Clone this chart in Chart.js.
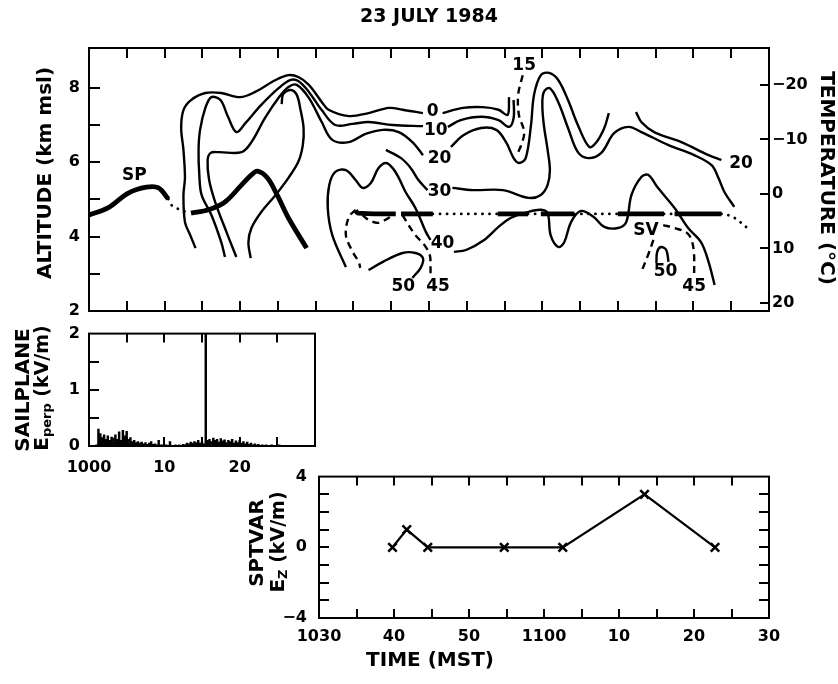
<!DOCTYPE html>
<html>
<head>
<meta charset="utf-8">
<script src="https://cdn.jsdelivr.net/npm/chart.js@4/dist/chart.umd.min.js"></script>
<style>
body { margin: 0; background: #fff; }
#wrap { position: relative; width: 838px; height: 684px; }
canvas { position: absolute; left: 0; }
</style>
</head>
<body>
<div id="wrap">
<canvas id="topChart" width="838" height="330" style="top:0"></canvas>
<canvas id="sailChart" width="838" height="170" style="top:315px"></canvas>
<canvas id="sptChart" width="838" height="229" style="top:455px"></canvas>
</div>
<script>
var FONT = "'DejaVu Sans', sans-serif";
Chart.defaults.font.family = FONT;
Chart.defaults.color = '#000';

// all times are minutes after 1000 MST, altitudes in km msl
// sailplane (SP) track
var spTrackA = [[0,4.58],[2.5,4.77],[5.2,5.17],[7.6,5.33],[9.2,5.31],[10.5,5.01]];
var spTrackDots = [[10.5,5.01],[10.9,4.85],[12.1,4.72],[13.5,4.63]];
var spTrackB = [[13.5,4.63],[15.8,4.72],[18.0,4.93],[20.2,5.39],[21.5,5.66],[22.3,5.76],[23.6,5.58],[24.9,5.12],[26.4,4.50],[28.8,3.69]];

// SPTVAR (SV) track, null = break
var svTrack = [[35.3,4.70],[35.6,4.63],[40.6,4.61], null, [41.3,4.61],[45.5,4.61], null,
  [54.1,4.61],[58.1,4.61], null, [59.8,4.61],[64.2,4.61], null, [70.0,4.61],[76.1,4.61], null,
  [77.5,4.61],[83.7,4.61]];
var svTrackDots = [[45.5,4.61],[54.1,4.61], null, [58.1,4.61],[59.8,4.61], null, [64.2,4.61],[70.0,4.61], null,
  [76.1,4.61],[77.5,4.61], null, [83.7,4.61],[85.0,4.55],[86.0,4.42],[87.2,4.22]];

// reflectivity contours (dBZ)
var dbz0 = [[14.1,3.69],[13.4,4.04],[12.7,4.39],[12.5,5.12],[12.7,5.58],[12.5,6.33],[12.2,6.92],[12.5,7.40],[13.5,7.67],[15.4,7.86],[17.5,7.86],[20.0,7.75],[22.0,7.89],[24.7,8.21],[26.4,8.34],[27.7,8.29],[29.1,8.08],[30.8,7.62],[31.7,7.41],[34.4,7.24],[37.0,7.32],[39.7,7.46],[41.5,7.41],[44.2,7.32], null,
  [46.8,7.32],[49.5,7.46],[52.1,7.48],[54.2,7.41],[55.4,7.27],[55.6,7.75]];
var dbz10 = [[18.0,3.45],[17.5,3.85],[16.2,4.58],[14.9,5.12],[14.6,5.66],[14.5,6.33],[14.7,6.87],[15.4,7.46],[16.2,7.75],[17.4,7.67],[18.4,7.22],[19.5,6.81],[20.7,7.05],[22.8,7.54],[25.1,7.99],[26.7,8.21],[27.7,8.18],[29.1,7.89],[30.8,7.40],[32.6,7.00],[34.9,7.03],[37.0,7.08],[40.2,7.00],[44.2,6.97], null,
  [47.5,6.95],[49.2,7.13],[51.9,7.22],[54.2,7.13],[55.6,6.95],[56.2,7.19],[56.2,7.67]];
var dbz20 = [[19.5,3.45],[18.2,4.12],[16.7,4.93],[15.9,5.52],[15.7,6.06],[16.1,6.25],[17.1,6.27],[20.2,6.27],[21.5,6.54],[23.3,7.19],[25.1,7.73],[26.4,8.02],[27.5,8.08],[29.1,7.73],[30.8,7.08],[32.2,6.60],[34.4,6.54],[36.6,6.76],[38.9,6.87],[41.0,6.81],[42.8,6.54],[44.2,6.19], null,
  [47.9,6.41],[49.6,6.73],[51.9,6.92],[53.9,6.87],[55.2,6.54],[56.2,6.11],[56.9,5.98],[57.8,6.11],[58.5,7.00],[58.9,7.81],[59.8,8.34],[60.9,8.40],[62.1,8.21],[63.4,7.67],[64.7,7.00],[66.2,6.41],[67.1,6.52],[68.2,6.92],[68.8,7.32]];
var dbz20East = [[72.4,7.35],[73.1,7.08],[74.8,6.81],[78.4,6.54],[82.0,6.19],[83.7,6.06]];
var dbz30 = [[39.3,6.33],[41.3,6.11],[42.6,5.84],[43.6,5.52],[44.8,5.25], null,
  [48.1,5.31],[50.8,5.25],[54.8,5.25],[58.2,5.04],[59.8,5.12],[60.7,5.39],[61.0,5.79],[60.7,6.33],[60.2,7.00],[60.0,7.54],[60.2,7.89],[61.0,7.99],[62.1,7.62],[63.4,6.92],[64.7,6.27],[66.1,6.11],[67.8,6.25],[69.5,6.78],[71.4,6.95],[73.1,6.81],[76.7,6.46],[80.1,6.19],[82.4,5.92],[83.3,5.58],[84.1,5.20],[85.4,4.80]];
var dbz40 = [[34.0,3.18],[32.2,4.04],[31.6,4.77],[31.8,5.39],[32.6,5.74],[34.0,5.79],[35.3,5.52],[36.2,5.31],[37.3,5.44],[38.3,5.84],[39.3,5.98],[40.2,5.84],[41.0,5.58],[41.9,5.20],[43.2,4.77],[44.6,4.12],[45.2,3.91], null,
  [48.3,3.59],[49.9,3.64],[52.3,3.91],[54.2,4.26],[55.8,4.50],[58.1,4.66],[59.8,4.72],[60.7,4.63],[61.1,4.04],[62.1,3.72],[62.9,3.85],[63.8,4.39],[65.1,4.69],[66.8,4.53],[68.2,4.26],[70.0,4.23],[71.1,4.39],[71.8,5.12],[73.1,5.60],[74.0,5.66],[75.3,5.31],[77.5,4.77],[79.3,4.23],[81.0,3.85],[82.0,3.32],[82.8,2.70]];
var dbzInner = [[25.5,7.56],[25.7,7.83],[26.7,7.94],[27.5,7.81],[28.0,7.40],[28.4,6.92],[28.3,6.46],[27.7,6.01],[26.4,5.58],[24.7,5.12],[22.8,4.66],[21.5,4.23],[21.1,3.85],[21.4,3.42]];
var dbz50West = [[37.0,3.10],[38.9,3.32],[41.5,3.56],[43.2,3.56],[44.2,3.42],[43.9,3.16],[42.8,2.89]];
var dbz50East = [[75.1,3.29],[75.2,3.59],[75.7,3.72],[76.4,3.64],[76.7,3.32]];
// dashed contours
var dbz15 = [[57.4,8.34],[56.8,7.81],[56.9,7.27],[57.6,6.81],[57.2,6.46],[56.8,6.27]];
var dbz45West = [[35.3,4.72],[34.4,4.53],[34.0,4.04],[34.9,3.59],[35.7,3.32],[35.9,3.16], null,
  [36.2,4.58],[37.0,4.45],[38.2,4.37],[39.4,4.47],[40.3,4.61], null,
  [41.5,4.58],[42.3,4.31],[43.2,4.04],[44.4,3.77],[45.1,3.51],[45.2,3.16],[45.2,2.97]];
var dbz45East = [[76.0,4.31],[77.5,4.23],[79.3,4.07],[80.0,3.69],[80.1,2.97]];
var dbz45SV = [[74.7,3.91],[74.0,3.51],[73.1,3.05]];

var contourLabels = [['0',45.5,7.35],['10',45.9,6.84],['20',46.4,6.11],['30',46.4,5.20],['40',46.8,3.80],
  ['50',41.6,2.65],['45',46.2,2.65],['15',57.6,8.61],['20',86.3,5.95],['SP',6.0,5.63],
  ['SV',73.7,4.15],['50',76.3,3.05],['45',80.1,2.65]];

var altLabels = [2, 4, 6, 8];
var altTicks = [3, 4, 5, 6, 7, 8];
var tempLabels = [-20, -10, 0, 10, 20];
var topTimeTicks = [5,10,15,20,25,30,35,40,45,50,55,60,65,70,75,80,85];

// sailplane E perp (kV/m), one sample every 0.25 min from 1001
var sailStart = 1.0;
var sailStep = 0.25;
var sailEperp = [0.02,0.30,0.22,0.15,0.20,0.12,0.18,0.10,0.16,0.14,0.20,0.12,0.25,0.10,0.28,0.18,
  0.26,0.12,0.15,0.08,0.10,0.06,0.08,0.05,0.07,0.04,0.06,0.03,0.05,0.08,0.03,0.04,
  0.02,0.10,0.02,0.02,0.01,0.02,0.01,0.08,0.01,0.01,0.02,0.01,0.02,0.01,0.03,0.02,
  0.05,0.04,0.07,0.05,0.08,0.06,0.10,0.05,0.08,0.04,2.00,0.10,0.12,0.08,0.14,0.10,
  0.12,0.07,0.13,0.09,0.11,0.06,0.10,0.08,0.12,0.05,0.09,0.06,0.10,0.05,0.08,0.04,
  0.07,0.03,0.05,0.02,0.04,0.02,0.03,0.01,0.02,0.01,0.02,0.01,0.01,0.02,0.01,0.01,
  0.01,0.02,0.01,0.01,0.01,0.01,0.01,0.01,0.01];

// SPTVAR Ez (kV/m)
var ezTimes = [39.8, 41.7, 44.5, 54.7, 62.5, 73.4, 82.8];
var ezValues = [0, 1, 0, 0, 0, 3, 0];

function toSegments(arr) {
    var segs = [], cur = [];
    arr.forEach(function(p) {
        if (p === null) { if (cur.length) segs.push(cur); cur = []; }
        else cur.push({x: p[0], y: p[1]});
    });
    if (cur.length) segs.push(cur);
    return segs;
}

function lineSets(arr, width, dash) {
    return toSegments(arr).map(function(seg) {
        return {
            data: seg,
            borderColor: '#000',
            borderWidth: width,
            borderDash: dash || [],
            borderCapStyle: dash && dash[0] < 1 ? 'round' : 'butt',
            pointRadius: 0,
            tension: 0.35,
            fill: false
        };
    });
}

// frame, inward ticks and text drawn from the chart's own scales
var panelDeco = {
    id: 'panelDeco',
    afterDraw: function(chart, args, opts) {
        var ctx = chart.ctx, a = chart.chartArea;
        ctx.save();
        ctx.strokeStyle = '#000';
        ctx.lineWidth = 2;
        ctx.strokeRect(a.left, a.top, a.right - a.left, a.bottom - a.top);
        (opts.ticks || []).forEach(function(t) {
            var s = chart.scales[t.axis];
            t.values.forEach(function(v) {
                var p = Math.round(s.getPixelForValue(v));
                ctx.beginPath();
                if (t.side == 'top') { ctx.moveTo(p, a.top); ctx.lineTo(p, a.top + t.len); }
                if (t.side == 'bottom') { ctx.moveTo(p, a.bottom); ctx.lineTo(p, a.bottom - t.len); }
                if (t.side == 'left') { ctx.moveTo(a.left, p); ctx.lineTo(a.left + t.len, p); }
                if (t.side == 'right') { ctx.moveTo(a.right, p); ctx.lineTo(a.right - t.len, p); }
                ctx.stroke();
            });
        });
        ctx.fillStyle = '#000';
        ctx.textAlign = 'center';
        ctx.textBaseline = 'middle';
        ctx.font = 'bold 17px ' + FONT;
        (opts.labels || []).forEach(function(l) {
            ctx.fillText(l[0], chart.scales.x.getPixelForValue(l[1]), chart.scales.y.getPixelForValue(l[2]));
        });
        (opts.titles || []).forEach(function(tt) {
            ctx.save();
            ctx.translate(tt.x, tt.y);
            ctx.rotate(tt.rot || 0);
            ctx.textAlign = 'left';
            var w = 0;
            tt.parts.forEach(function(p) { ctx.font = 'bold ' + p[1] + 'px ' + FONT; w += ctx.measureText(p[0]).width; });
            var cx = -w / 2;
            tt.parts.forEach(function(p) {
                ctx.font = 'bold ' + p[1] + 'px ' + FONT;
                ctx.fillText(p[0], cx, p[2] || 0);
                cx += ctx.measureText(p[0]).width;
            });
            ctx.restore();
        });
        ctx.restore();
    }
};

var noGrid = {display: false, drawTicks: false};
var tickFont = {size: 16, weight: 'bold'};
var LW = 2.4;

// ---------- top panel ----------
var topSets = []
    .concat(lineSets(dbz0, LW)).concat(lineSets(dbz10, LW)).concat(lineSets(dbz20, LW))
    .concat(lineSets(dbz20East, LW)).concat(lineSets(dbz30, LW)).concat(lineSets(dbz40, LW))
    .concat(lineSets(dbzInner, LW)).concat(lineSets(dbz50West, LW)).concat(lineSets(dbz50East, LW))
    .concat(lineSets(dbz15, LW, [7, 5])).concat(lineSets(dbz45West, LW, [7, 5]))
    .concat(lineSets(dbz45East, LW, [7, 5])).concat(lineSets(dbz45SV, LW, [7, 5]))
    .concat(lineSets(spTrackA, 4.8)).concat(lineSets(spTrackB, 4.8))
    .concat(lineSets(spTrackDots, 2.8, [0.1, 7])).concat(lineSets(svTrack, 4.8))
    .concat(lineSets(svTrackDots, 2.8, [0.1, 7]));

new Chart(document.getElementById('topChart'), {
    type: 'line',
    data: {datasets: topSets},
    options: {
        responsive: false,
        animation: false,
        devicePixelRatio: 1,
        layout: {padding: 0},
        plugins: {
            legend: {display: false},
            tooltip: {enabled: false},
            title: {
                display: true,
                fullSize: false,
                text: '23 JULY 1984',
                font: {size: 19, weight: 'bold'},
                padding: {top: 6, bottom: 19.2}
            },
            panelDeco: {
                ticks: [
                    {axis: 'x', side: 'top', len: 10, values: topTimeTicks},
                    {axis: 'x', side: 'bottom', len: 10, values: topTimeTicks},
                    {axis: 'y', side: 'left', len: 11, values: altTicks},
                    {axis: 'temp', side: 'right', len: 9, values: tempLabels}
                ],
                labels: contourLabels,
                titles: [
                    {x: 46, y: 173, rot: -Math.PI / 2, parts: [['ALTITUDE (km msl)', 20]]},
                    {x: 826, y: 178, rot: Math.PI / 2, parts: [['TEMPERATURE (\u00B0C)', 20]]}
                ]
            }
        },
        scales: {
            x: {
                type: 'linear', min: 0, max: 90,
                grid: noGrid, border: {display: false},
                ticks: {display: false},
                afterFit: function(s) { s.height = 19; }
            },
            y: {
                type: 'linear', position: 'left', min: 2, max: 9.07,
                grid: noGrid, border: {display: false},
                afterBuildTicks: function(s) { s.ticks = altLabels.map(function(v) { return {value: v}; }); },
                ticks: {padding: 9, font: tickFont, callback: function(v) { return String(v); }},
                afterFit: function(s) { s.width = 89; }
            },
            temp: {
                type: 'linear', position: 'right', reverse: true, min: -26.8, max: 21.5,
                grid: noGrid, border: {display: false},
                afterBuildTicks: function(s) { s.ticks = tempLabels.map(function(v) { return {value: v}; }); },
                ticks: {padding: 3, font: tickFont, callback: function(v) { return v < 0 ? '\u2212' + Math.abs(v) : String(v); }},
                afterFit: function(s) { s.width = 69; }
            }
        }
    },
    plugins: [panelDeco]
});

// ---------- sailplane panel ----------
var sailPoints = sailEperp.map(function(v, i) { return {x: sailStart + i * sailStep, y: v}; });

new Chart(document.getElementById('sailChart'), {
    type: 'bar',
    data: {datasets: [{data: sailPoints, backgroundColor: '#000', barThickness: 1.8}]},
    options: {
        responsive: false,
        animation: false,
        devicePixelRatio: 1,
        layout: {padding: {top: 18, right: 523}},
        plugins: {
            legend: {display: false},
            tooltip: {enabled: false},
            panelDeco: {
                ticks: [
                    {axis: 'x', side: 'top', len: 9, values: [5, 10, 15, 20, 25]},
                    {axis: 'x', side: 'bottom', len: 9, values: [5, 10, 15, 20, 25]},
                    {axis: 'y', side: 'left', len: 10, values: [0.5, 1, 1.5]}
                ],
                titles: [
                    {x: 24, y: 75, rot: -Math.PI / 2, parts: [['SAILPLANE', 20]]},
                    {x: 43, y: 73, rot: -Math.PI / 2, parts: [['E', 20], ['perp', 13, 5], [' (kV/m)', 19]]}
                ]
            }
        },
        scales: {
            x: {
                type: 'linear', min: 0, max: 30, offset: false,
                grid: noGrid, border: {display: false},
                afterBuildTicks: function(s) { s.ticks = [0, 10, 20].map(function(v) { return {value: v}; }); },
                ticks: {padding: 12, maxRotation: 0, font: tickFont, callback: function(v) { return v === 0 ? '1000' : String(v); }},
                afterFit: function(s) { s.height = 39; }
            },
            y: {
                type: 'linear', min: 0, max: 2,
                grid: noGrid, border: {display: false},
                afterBuildTicks: function(s) { s.ticks = [0, 1, 2].map(function(v) { return {value: v}; }); },
                ticks: {padding: 9, font: tickFont, callback: function(v) { return String(v); }},
                afterFit: function(s) { s.width = 89; }
            }
        }
    },
    plugins: [panelDeco]
});

// ---------- SPTVAR panel ----------
var timeNames = {30: '1030', 40: '40', 50: '50', 60: '1100', 70: '10', 80: '20', 90: '30'};

new Chart(document.getElementById('sptChart'), {
    type: 'line',
    data: {
        datasets: [{
            data: ezTimes.map(function(t, i) { return {x: t, y: ezValues[i]}; }),
            borderColor: '#000',
            borderWidth: 2.2,
            pointStyle: 'crossRot',
            pointRadius: 6,
            pointBorderWidth: 2.5,
            pointBorderColor: '#000',
            tension: 0
        }]
    },
    options: {
        responsive: false,
        animation: false,
        devicePixelRatio: 1,
        layout: {padding: {top: 19, right: 69}},
        plugins: {
            legend: {display: false},
            tooltip: {enabled: false},
            panelDeco: {
                ticks: [
                    {axis: 'x', side: 'top', len: 9, values: [35, 40, 45, 50, 55, 60, 65, 70, 75, 80, 85]},
                    {axis: 'x', side: 'bottom', len: 9, values: [35, 40, 45, 50, 55, 60, 65, 70, 75, 80, 85]},
                    {axis: 'y', side: 'left', len: 10, values: [-3, -2, -1, 0, 1, 2, 3]},
                    {axis: 'y', side: 'right', len: 10, values: [-3, -2, -1, 0, 1, 2, 3]}
                ],
                titles: [
                    {x: 258, y: 88, rot: -Math.PI / 2, parts: [['SPTVAR', 20]]},
                    {x: 279, y: 87, rot: -Math.PI / 2, parts: [['E', 20], ['Z', 13, 5], [' (kV/m)', 19]]},
                    {x: 430, y: 206, rot: 0, parts: [['TIME (MST)', 20]]}
                ]
            }
        },
        scales: {
            x: {
                type: 'linear', min: 30, max: 90,
                grid: noGrid, border: {display: false},
                afterBuildTicks: function(s) { s.ticks = [30, 40, 50, 60, 70, 80, 90].map(function(v) { return {value: v}; }); },
                ticks: {padding: 9, maxRotation: 0, font: tickFont, callback: function(v) { return timeNames[v]; }},
                afterFit: function(s) { s.height = 66; }
            },
            y: {
                type: 'linear', min: -4, max: 4,
                grid: noGrid, border: {display: false},
                afterBuildTicks: function(s) { s.ticks = [-4, 0, 4].map(function(v) { return {value: v}; }); },
                ticks: {padding: 12, font: tickFont, callback: function(v) { return v < 0 ? '\u2212' + Math.abs(v) : String(v); }},
                afterFit: function(s) { s.width = 319; }
            }
        }
    },
    plugins: [panelDeco]
});
</script>
</body>
</html>
